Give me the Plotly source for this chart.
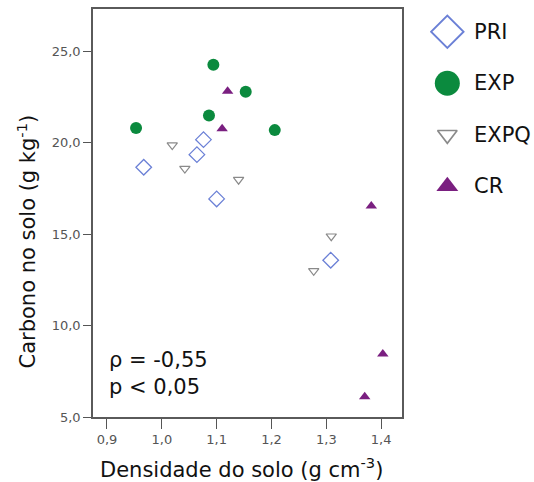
import plotly.graph_objects as go

W, H = 534, 482

# ---- data ----
pri_x = [0.967, 1.076, 1.064, 1.100, 1.308]
pri_y = [18.65, 20.16, 19.34, 16.92, 13.57]

exp_x = [0.953, 1.094, 1.153, 1.086, 1.206]
exp_y = [20.79, 24.25, 22.78, 21.48, 20.68]

expq_x = [1.019, 1.042, 1.140, 1.309, 1.277]
expq_y = [19.86, 18.58, 17.97, 14.88, 12.99]

cr_x = [1.120, 1.110, 1.382, 1.403, 1.370]
cr_y = [22.81, 20.76, 16.53, 8.44, 6.11]

x_ticks = [0.9, 1.0, 1.1, 1.2, 1.3, 1.4]
x_ticklabels = ["0,9", "1,0", "1,1", "1,2", "1,3", "1,4"]
y_ticks = [5, 10, 15, 20, 25]
y_ticklabels = ["5,0", "10,0", "15,0", "20,0", "25,0"]

groups = ["PRI", "EXP", "EXPQ", "CR"]

# ---- styles ----
styles = {
    "PRI": dict(symbol="diamond-open", color="#6b80d6", size=12, lsize=25, lw=1.3),
    "EXP": dict(symbol="circle", color="#0b8a3e", size=12, lsize=25, lw=0),
    "EXPQ": dict(symbol="triangle-down-open", color="#8a8a8a", size=9, lsize=17, lw=1.2),
    "CR": dict(symbol="triangle-up", color="#7a1f80", size=10, lsize=19, lw=0),
}
data = {"PRI": (pri_x, pri_y), "EXP": (exp_x, exp_y),
        "EXPQ": (expq_x, expq_y), "CR": (cr_x, cr_y)}

FONT = "DejaVu Sans"

fig = go.Figure()
for g in groups:
    s = styles[g]
    xs, ys = data[g]
    fig.add_trace(go.Scatter(
        x=xs, y=ys, mode="markers", name=g, showlegend=False,
        marker=dict(symbol=s["symbol"], size=s["size"], color=s["color"],
                    line=dict(color=s["color"], width=s["lw"])),
        xaxis="x", yaxis="y"))

# custom legend drawn on a hidden helper axis pair
for g in groups:
    s = styles[g]
    fig.add_trace(go.Scatter(
        x=[0], y=[g], mode="markers", showlegend=False, hoverinfo="skip",
        marker=dict(symbol=s["symbol"], size=s["lsize"], color=s["color"],
                    line=dict(color=s["color"], width=s["lw"] * 1.4 if s["lw"] else 0)),
        xaxis="x2", yaxis="y2"))
    fig.add_annotation(x=0.72, y=g, xref="x2", yref="y2", text=g, showarrow=False,
                       xanchor="left", yanchor="middle",
                       font=dict(family=FONT, size=21, color="#111"))

# plot area in pixels
L, R, T, B = 93, 402, 9, 417
fig.update_layout(
    width=W, height=H,
    margin=dict(l=0, r=0, t=0, b=0),
    paper_bgcolor="white", plot_bgcolor="white",
    font=dict(family=FONT, color="#111"),
    xaxis=dict(domain=[L / W, R / W], range=[0.8745, 1.438],
               tickvals=x_ticks, ticktext=x_ticklabels,
               ticks="outside", ticklen=10, tickcolor="#555", tickwidth=1,
               showline=True, linecolor="#5a5a5a", linewidth=1.5, mirror=True,
               showgrid=False, zeroline=False,
               tickfont=dict(family=FONT, size=13, color="#555"),
               automargin=False, anchor="y"),
    yaxis=dict(domain=[1 - B / H, 1 - T / H], range=[5, 27.3],
               tickvals=y_ticks, ticktext=y_ticklabels,
               ticks="outside", ticklen=8, tickcolor="#555", tickwidth=1,
               showline=True, linecolor="#5a5a5a", linewidth=1.5, mirror=True,
               showgrid=False, zeroline=False,
               tickfont=dict(family=FONT, size=13, color="#555"),
               automargin=False, anchor="x"),
    xaxis2=dict(domain=[430 / W, 1], range=[-0.5, 2.5], visible=False,
                anchor="y2", fixedrange=True),
    yaxis2=dict(domain=[1 - 212 / H, 1 - 6 / H], range=[3.5, -0.5],
                type="category", categoryorder="array", categoryarray=groups,
                visible=False, anchor="x2", fixedrange=True),
)

# axis titles
fig.add_annotation(x=241.5 / W, y=1 - 468 / H, xref="paper", yref="paper",
                   xanchor="center", yanchor="middle", showarrow=False,
                   text="Densidade do solo (g cm<sup>-3</sup>)",
                   font=dict(family=FONT, size=21, color="#111"))
fig.add_annotation(x=26.5 / W, y=1 - 242 / H, xref="paper", yref="paper",
                   xanchor="center", yanchor="middle", showarrow=False, textangle=-90,
                   text="Carbono no solo (g kg<sup>-1</sup>)",
                   font=dict(family=FONT, size=21, color="#111"))

fig.add_annotation(x=0.9, y=5.9, xref="x", yref="y", xanchor="left", yanchor="bottom",
                   text="ρ = -0,55<br>p < 0,05", showarrow=False, align="left",
                   font=dict(family=FONT, size=21, color="#111"))

fig.write_html("out.html")
